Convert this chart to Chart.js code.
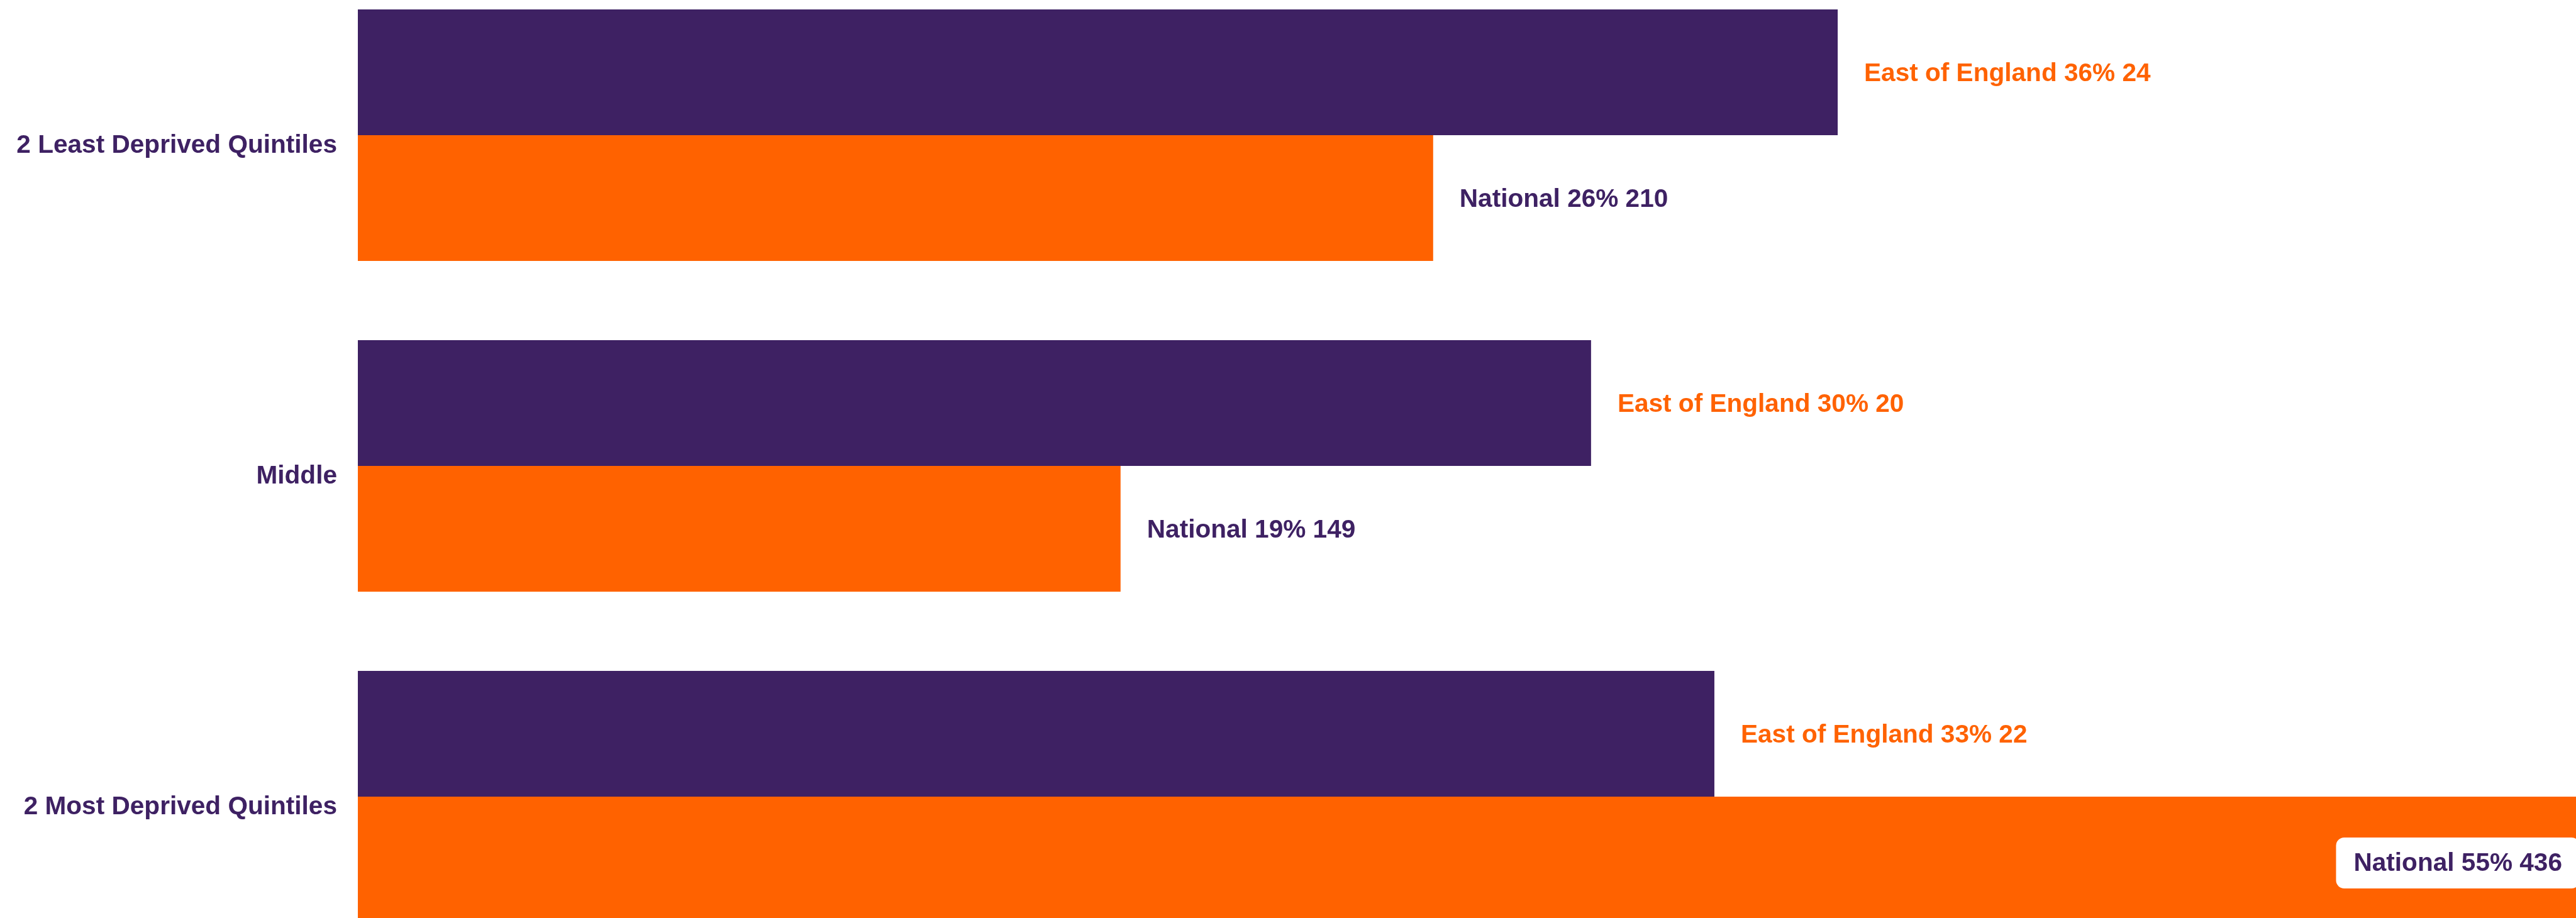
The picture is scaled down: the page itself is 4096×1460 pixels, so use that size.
<!DOCTYPE html>
<html>
<head>
<meta charset="utf-8">
<script src="https://cdn.jsdelivr.net/npm/chart.js@4"></script>
<style>
  html, body { margin: 0; padding: 0; background: #fff; overflow: hidden; }
  body { width: 4096px; height: 1460px; position: relative; }
  #wrap { position: absolute; left: 0; top: -48px; width: 4096px; height: 1578px; }
</style>
</head>
<body>
<div id="wrap"><canvas id="myChart"></canvas></div>
<script>
const categories = ['2 Least Deprived Quintiles', 'Middle', '2 Most Deprived Quintiles']
const seriesNames = ['East of England', 'National']
const eastPct = [36.36, 30.30, 33.33]
const eastCount = [24, 20, 22]
const natPct = [26.42, 18.74, 54.84]
const natCount = [210, 149, 436]

const purple = '#3e2163'
const orange = '#ff6200'
const font = '"Liberation Sans", Arial, sans-serif'
const fsize = 40.6

// labels at the end of each bar, inside with a white box when they don't fit
const barLabels = {
    id: 'barLabels',
    afterDatasetsDraw(chart) {
        const ctx = chart.ctx
        const area = chart.chartArea
        ctx.save()
        ctx.font = 'bold ' + fsize + 'px ' + font
        ctx.textBaseline = 'middle'
        chart.data.datasets.forEach((ds, di) => {
            const meta = chart.getDatasetMeta(di)
            meta.data.forEach((bar, i) => {
                const txt = ds.label + ' ' + Math.round(ds.data[i]) + '% ' + ds.counts[i]
                const w = ctx.measureText(txt).width
                let x = bar.x + 42
                if (x + w > area.right) {
                    const right = Math.min(bar.x, area.right) - 22
                    const y = bar.y + 6
                    ctx.fillStyle = '#fff'
                    ctx.beginPath()
                    ctx.roundRect(right - w - 28, y - 41, w + 56, 81, 13)
                    ctx.fill()
                    ctx.fillStyle = ds.labelColor
                    ctx.textAlign = 'right'
                    ctx.fillText(txt, right, y + 1)
                } else {
                    ctx.fillStyle = ds.labelColor
                    ctx.textAlign = 'left'
                    ctx.fillText(txt, x, bar.y + 3)
                }
            })
        })
        ctx.restore()
    }
}

var ctx = document.getElementById('myChart').getContext('2d')
var chart = new Chart(ctx, {
    type: 'bar',
    data: {
        labels: categories,
        datasets: [{
            label: seriesNames[0],
            data: eastPct,
            counts: eastCount,
            backgroundColor: purple,
            labelColor: orange
        },
        {
            label: seriesNames[1],
            data: natPct,
            counts: natCount,
            backgroundColor: orange,
            labelColor: purple
        }]
    },
    options: {
        indexAxis: 'y',
        responsive: true,
        maintainAspectRatio: false,
        animation: false,
        layout: { padding: 0 },
        datasets: {
            bar: { categoryPercentage: 0.76, barPercentage: 1.0 }
        },
        plugins: {
            legend: { display: false },
            tooltip: { enabled: false }
        },
        scales: {
            x: {
                display: false,
                min: 0,
                max: 54.5
            },
            y: {
                grid: { display: false, drawTicks: false },
                border: { display: false },
                afterFit: (scale) => {
                    scale.width = 569
                    scale.paddingTop = 0
                    scale.paddingBottom = 0
                },
                ticks: {
                    color: purple,
                    padding: 33,
                    labelOffset: 17,
                    font: { family: font, size: fsize, weight: 'bold' }
                }
            }
        }
    },
    plugins: [barLabels]
})
</script>
</body>
</html>
